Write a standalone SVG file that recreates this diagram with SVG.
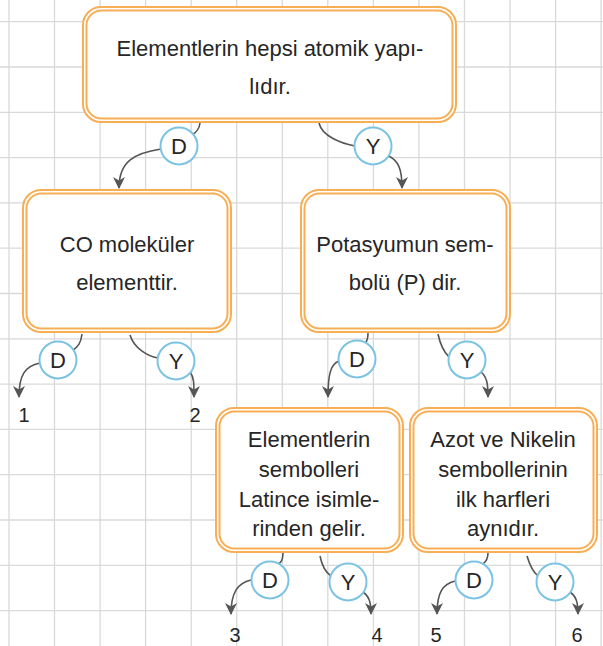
<svg xmlns="http://www.w3.org/2000/svg" width="603" height="646" viewBox="0 0 603 646">
<style>
.grid{stroke:#d9d9d9;stroke-width:1.3;fill:none}
.bo{fill:#fff;stroke:#f7ae55;stroke-width:2}
.bi{fill:none;stroke:#f7ae55;stroke-width:2}
.t{font-family:"Liberation Sans",Arial,sans-serif;font-size:22px;fill:#262626;text-anchor:middle}
.n{font-family:"Liberation Sans",Arial,sans-serif;font-size:20px;fill:#262626;text-anchor:middle}
.c{fill:none;stroke:#555;stroke-width:1.6}
.a{fill:none;stroke:#555;stroke-width:1.6;marker-end:url(#ah)}
.lc{fill:#fff;stroke:#7cc3e3;stroke-width:2}
.lt{font-family:"Liberation Sans",Arial,sans-serif;font-size:22px;fill:#262626;text-anchor:middle}
</style>
<defs>
<marker id="ah" viewBox="0 0 12 12" refX="11" refY="6" markerWidth="12" markerHeight="12" markerUnits="userSpaceOnUse" orient="auto">
<path d="M0,0 L12,6 L0,12 L3.5,6 z" fill="#555"/>
</marker>
</defs>
<rect width="603" height="646" fill="#fff"/>
<g id="grid" class="grid">
<path d="M9,0V646M54.5,0V646M100.1,0V646M145.6,0V646M191.2,0V646M236.7,0V646M282.3,0V646M327.8,0V646M373.4,0V646M418.9,0V646M464.5,0V646M510,0V646M555.6,0V646M601.1,0V646"/>
<path d="M0,21.7H603M0,67H603M0,112.3H603M0,157.6H603M0,202.9H603M0,248.2H603M0,293.5H603M0,338.8H603M0,384.1H603M0,429.4H603M0,474.7H603M0,520H603M0,565.3H603M0,610.6H603"/>
</g>
<g id="connectors">
<path class="c" d="M200,123 Q199,131 192,135"/>
<path class="a" d="M161,149 C135,153 119,161 119,188"/>
<path class="c" d="M319,123 C322,136 340,143 355,146"/>
<path class="a" d="M389,156 C398,161 402,168 402,188"/>
<path class="c" d="M82,334 C81,343 78,347 72,351"/>
<path class="a" d="M40,363 C25,366 19,375 19,397"/>
<path class="c" d="M130,335 C134,348 147,356 158,358"/>
<path class="a" d="M190,372 C194,377 194,383 194,397"/>
<path class="c" d="M368,333 Q368,339 366,342"/>
<path class="a" d="M339,361 C331,364 328,373 328,397"/>
<path class="c" d="M438,334 C441,348 446,354 449,357"/>
<path class="a" d="M481,372 C487,377 488,384 488,397"/>
<path class="c" d="M283,553 C283,560 281,563 278,564"/>
<path class="a" d="M251,580 C238,583 231,592 231,614"/>
<path class="c" d="M320,556 C322,566 325,572 331,576"/>
<path class="a" d="M363,592 C369,596 371,602 371,614"/>
<path class="c" d="M488,553 Q488,560 483,564"/>
<path class="a" d="M455,581 C443,584 437,592 437,614"/>
<path class="c" d="M527,556 C530,566 533,572 538,576"/>
<path class="a" d="M570,592 C576,596 578,602 578,614"/>
</g>
<g id="n1">
<rect class="bo" x="83" y="7" width="373" height="115" rx="18"/>
<rect class="bi" x="86.5" y="10.5" width="366" height="108" rx="15"/>
<text class="t" x="270" y="56">Elementlerin hepsi atomik yapı-</text>
<text class="t" x="270" y="94">lıdır.</text>
</g>
<g id="n2">
<rect class="bo" x="23" y="190" width="208" height="142" rx="18"/>
<rect class="bi" x="26.5" y="193.5" width="201" height="135" rx="15"/>
<text class="t" x="127" y="252">CO moleküler</text>
<text class="t" x="127" y="290">elementtir.</text>
</g>
<g id="n3">
<rect class="bo" x="301" y="190" width="209" height="142" rx="18"/>
<rect class="bi" x="304.5" y="193.5" width="202" height="135" rx="15"/>
<text class="t" x="405" y="252">Potasyumun sem-</text>
<text class="t" x="405" y="290">bolü (P) dir.</text>
</g>
<g id="n4">
<rect class="bo" x="216" y="408" width="187" height="144" rx="18"/>
<rect class="bi" x="219.5" y="411.5" width="180" height="137" rx="15"/>
<text class="t" x="309" y="447">Elementlerin</text>
<text class="t" x="309" y="477">sembolleri</text>
<text class="t" x="309" y="507">Latince isimle-</text>
<text class="t" x="309" y="536">rinden gelir.</text>
</g>
<g id="n5">
<rect class="bo" x="410" y="408" width="187" height="144" rx="18"/>
<rect class="bi" x="413.5" y="411.5" width="180" height="137" rx="15"/>
<text class="t" x="503" y="447">Azot ve Nikelin</text>
<text class="t" x="503" y="477">sembollerinin</text>
<text class="t" x="503" y="507">ilk harfleri</text>
<text class="t" x="503" y="536">aynıdır.</text>
</g>
<g id="labels">
<circle class="lc" cx="179" cy="146" r="18.5"/><text class="lt" x="179" y="154">D</text>
<circle class="lc" cx="373" cy="146" r="18.5"/><text class="lt" x="373" y="154">Y</text>
<circle class="lc" cx="58" cy="360" r="18.5"/><text class="lt" x="58" y="368">D</text>
<circle class="lc" cx="176" cy="361" r="18.5"/><text class="lt" x="176" y="369">Y</text>
<circle class="lc" cx="357" cy="359" r="18.5"/><text class="lt" x="357" y="367">D</text>
<circle class="lc" cx="467" cy="360" r="18.5"/><text class="lt" x="467" y="368">Y</text>
<circle class="lc" cx="270" cy="580" r="18.5"/><text class="lt" x="270" y="588">D</text>
<circle class="lc" cx="348" cy="582" r="18.5"/><text class="lt" x="348" y="590">Y</text>
<circle class="lc" cx="474" cy="580" r="18.5"/><text class="lt" x="474" y="588">D</text>
<circle class="lc" cx="555" cy="582" r="18.5"/><text class="lt" x="555" y="590">Y</text>
</g>
<g id="leaves">
<text id="leaf1" class="n" x="24" y="422">1</text>
<text id="leaf2" class="n" x="195" y="422">2</text>
<text id="leaf3" class="n" x="235" y="642">3</text>
<text id="leaf4" class="n" x="377" y="642">4</text>
<text id="leaf5" class="n" x="436" y="642">5</text>
<text id="leaf6" class="n" x="577" y="642">6</text>
</g>
</svg>
